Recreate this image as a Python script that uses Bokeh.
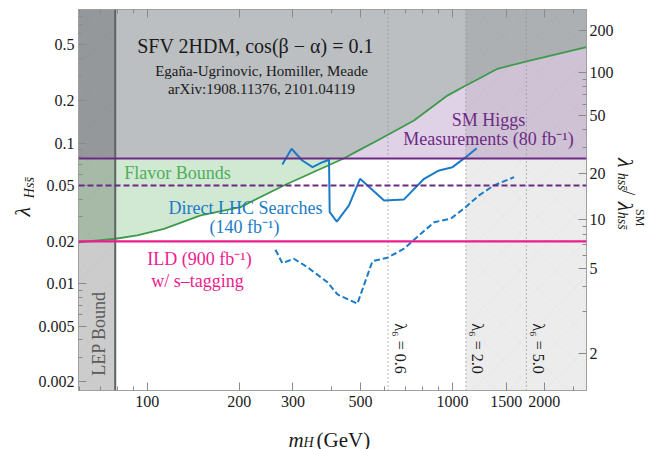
import numpy as np
from bokeh.plotting import figure
from bokeh.layouts import row, column
from bokeh.models import (Range1d, LogAxis, FixedTicker, CustomJSTickFormatter,
                          Label, Span, BoxAnnotation)
from bokeh.embed import file_html
from bokeh.resources import INLINE

# ---------------- data ----------------
# Flavor bound (green curve): m_H [GeV], lambda_Hss
green_m = [59.5, 60.4, 78.7, 92.7, 113.4, 149.6, 202, 280, 440, 493, 582, 748, 963, 1106, 1238, 1404, 1806, 2750]
green_lam = [0.0196, 0.0198, 0.0209, 0.0221, 0.0246, 0.0306, 0.0351, 0.050, 0.0778, 0.0888, 0.1075, 0.145, 0.218, 0.257, 0.292, 0.338, 0.388, 0.482]

# Direct LHC searches, 140 fb^-1 (solid)
lhc_m = [277, 297, 322, 348, 375, 394, 396, 418, 458, 498, 597, 694, 807, 904, 1000, 1106, 1201]
lhc_lam = [0.0706, 0.0912, 0.0753, 0.0675, 0.0732, 0.0762, 0.0323, 0.0277, 0.0361, 0.0558, 0.0391, 0.0398, 0.0558, 0.0640, 0.0675, 0.0795, 0.0921]

# Projection (dashed)
proj_m = [263, 277, 302, 335, 389, 420, 488, 547, 612, 694, 740, 871, 987, 1106, 1222, 1369, 1592]
proj_lam = [0.01746, 0.0140, 0.01506, 0.0131, 0.01026, 0.0084, 0.00721, 0.01448, 0.0153, 0.01775, 0.0201, 0.0274, 0.0290, 0.0351, 0.0425, 0.0501, 0.0573]

sm_higgs_bound = 0.0778     # SM Higgs measurements (80 fb^-1)
sm_higgs_proj = 0.05        # dashed purple
ild_bound = 0.02            # ILD (900 fb^-1) w/ s-tagging
lep_bound_m = 78.5          # LEP bound

lambda6_m = [615, 1106, 1748]
lambda6_labels = ["0.6", "2.0", "5.0"]

x_ticks = [100, 200, 300, 500, 1000, 1500, 2000]
x_minor = [60, 70, 80, 90, 400, 600, 700, 800, 900, 2500]
y_ticks = [0.002, 0.005, 0.01, 0.02, 0.05, 0.1, 0.2, 0.5]
y_minor = [0.003, 0.004, 0.006, 0.007, 0.008, 0.009, 0.03, 0.04, 0.06, 0.07, 0.08, 0.09,
           0.3, 0.4, 0.6, 0.7, 0.8]
ratio_ticks = [2, 5, 10, 20, 50, 100, 200]
ratio_minor = [3, 4, 6, 7, 8, 9, 30, 40, 60, 70, 80, 90]
cos_ba = 0.1
sin_ba = float(np.sqrt(1 - cos_ba ** 2))
lam_sm = 3.19e-4

X_MIN, X_MAX = 59.5, 2750
Y_MIN, Y_MAX = 0.00174, 0.893

FONT = "Liberation Serif"
C_GREEN_FILL = "#d1e9d2"
C_PURPLE_FILL = "#e0d2e6"
C_GRAY_FILL = "#bbbfc1"
C_PURPLE = "#6c2a86"
C_PINK = "#ec1c8e"
C_BLUE = "#1b7bc6"
C_GREEN = "#3d9a4b"

# layout sizes (pixels)
LEFT_W, RIGHT_W, BOTTOM_H = 34, 48, 31
FRAME_W, FRAME_H = 508, 381
B_LEFT, B_RIGHT, B_TOP, B_BOTTOM = 44, 30, 9, 28
MAIN_H = B_TOP + FRAME_H + B_BOTTOM


def ratio_to_lam(r):
    return (r - sin_ba) / cos_ba * lam_sm


p = figure(frame_width=FRAME_W, frame_height=FRAME_H, x_axis_type="log", y_axis_type="log",
           x_range=Range1d(X_MIN, X_MAX), y_range=Range1d(Y_MIN, Y_MAX),
           output_backend="svg", toolbar_location=None, title=None,
           min_border_left=B_LEFT, min_border_right=B_RIGHT, min_border_top=B_TOP,
           min_border_bottom=B_BOTTOM, margin=(0, 0, 0, 0),
           background_fill_color="white", border_fill_color="white",
           outline_line_color="#a0a0a0")
p.grid.visible = False

# ---------------- region fills ----------------
gm = np.array(green_m)
gl = np.array(green_lam)
purple_line = np.full_like(gl, sm_higgs_bound)
upper = np.maximum(gl, purple_line)
top = np.full_like(gl, Y_MAX)
r1 = p.varea(x=gm, y1=gl, y2=upper, fill_color=C_GREEN_FILL)
r2 = p.varea(x=gm, y1=purple_line, y2=upper, fill_color=C_PURPLE_FILL)
r3 = p.varea(x=gm, y1=upper, y2=top, fill_color=C_GRAY_FILL)
for r in (r1, r2, r3):
    r.level = "image"

hatch = dict(hatch_pattern="diagonal_cross", hatch_scale=36, hatch_color="#000000",
             hatch_alpha=0.04, hatch_weight=0.6)
p.add_layout(BoxAnnotation(left=lambda6_m[1], fill_color="black", fill_alpha=0.075,
                           line_alpha=0, level="underlay", **hatch))
p.add_layout(BoxAnnotation(right=lep_bound_m, fill_color="black", fill_alpha=0.2,
                           line_alpha=0, level="underlay", **hatch))

# ---------------- lines ----------------
for xm in lambda6_m:
    p.add_layout(Span(location=xm, dimension="height", line_color="#8c8c8c",
                      line_dash="1 3", line_width=1.2))
p.add_layout(Span(location=lep_bound_m, dimension="height", line_color="#5f6264", line_width=2))

p.line(green_m, green_lam, line_color=C_GREEN, line_width=1.8)
p.add_layout(Span(location=sm_higgs_bound, dimension="width", line_color=C_PURPLE, line_width=2.2))
p.add_layout(Span(location=sm_higgs_proj, dimension="width", line_color=C_PURPLE, line_width=2,
                  line_dash="6 3"))
p.add_layout(Span(location=ild_bound, dimension="width", line_color=C_PINK, line_width=2.2))
p.line(lhc_m, lhc_lam, line_color=C_BLUE, line_width=2)
p.line(proj_m, proj_lam, line_color=C_BLUE, line_width=2, line_dash="6 3")


# ---------------- axes ----------------
def style(ax, standoff):
    ax.axis_line_color = "#a0a0a0"
    ax.major_tick_line_color = "#8a8a8a"
    ax.minor_tick_line_color = "#8a8a8a"
    ax.major_tick_in = 8
    ax.major_tick_out = 0
    ax.minor_tick_in = 4
    ax.minor_tick_out = 0
    ax.major_label_text_font = FONT
    ax.major_label_text_font_size = "16px"
    ax.major_label_text_color = "#1a1a1a"
    ax.major_label_standoff = standoff


xa = p.below[0]
xa.ticker = FixedTicker(ticks=x_ticks, minor_ticks=x_minor)
xa.formatter = CustomJSTickFormatter(code="return tick.toFixed(0)")
style(xa, 5)

ya = p.left[0]
ya.ticker = FixedTicker(ticks=y_ticks, minor_ticks=y_minor)
ya.formatter = CustomJSTickFormatter(code="return String(+tick.toPrecision(3))")
style(ya, 4)

top_ax = LogAxis(ticker=FixedTicker(ticks=x_ticks, minor_ticks=x_minor))
style(top_ax, 0)
top_ax.major_label_text_font_size = "0px"
p.add_layout(top_ax, "above")

right_ax = LogAxis(ticker=FixedTicker(ticks=[ratio_to_lam(r) for r in ratio_ticks],
                                      minor_ticks=[ratio_to_lam(r) for r in ratio_minor]),
                   formatter=CustomJSTickFormatter(
                       args=dict(s=sin_ba, c=cos_ba, l=lam_sm),
                       code="return Math.round(s + c * tick / l).toFixed(0)"))
style(right_ax, 3)
p.add_layout(right_ax, "right")


# ---------------- texts ----------------
def lab(fig, text, x, y, size, color="#1a1a1a", align="center", baseline="middle",
        angle=0.0, style_="normal", xu="screen", yu="screen", xoff=0):
    fig.add_layout(Label(x=x, y=y, x_units=xu, y_units=yu, text=text, text_font=FONT,
                         text_font_size=size, text_color=color, text_align=align,
                         text_baseline=baseline, angle=angle, text_font_style=style_,
                         x_offset=xoff))


# in-frame texts: screen coords relative to frame (sx = page_x - 78, sy = 390 - page_y)
lab(p, "SFV 2HDM, cos(\u03b2 \u2212 \u03b1) = 0.1", 177, 345, "20px")
lab(p, "Ega\u00f1a-Ugrinovic, Homiller, Meade", 183, 320, "15px")
lab(p, "arXiv:1908.11376, 2101.04119", 183, 302, "15px")

lab(p, "SM Higgs", 410, 271, "18px", color=C_PURPLE)
lab(p, "Measurements (80 fb\u207b\u00b9)", 410, 252, "18px", color=C_PURPLE)
lab(p, "Flavor Bounds", 99, 218, "18px", color="#4fae5c")
lab(p, "Direct LHC Searches", 167, 183, "18px", color=C_BLUE)
lab(p, "(140 fb\u207b\u00b9)", 166, 164, "18px", color=C_BLUE)
lab(p, "ILD (900 fb\u207b\u00b9)", 121, 132, "18px", color=C_PINK)
lab(p, "w/ s\u2013tagging", 119, 110, "18px", color=C_PINK)
lab(p, "LEP Bound", 20, 57, "18px", color="#5a5a5a", angle=np.pi / 2)

for xm, t in zip(lambda6_m, lambda6_labels):
    lab(p, "\u03bb\u2086 = " + t, xm, 42, "16px", angle=-np.pi / 2, xu="data", xoff=12)


# label strips around the main plot (pixel data ranges)
def strip(w, h):
    f = figure(width=w, height=h, x_range=Range1d(0, w), y_range=Range1d(0, h),
               output_backend="svg", toolbar_location=None, title=None, min_border=0,
               x_axis_location=None, y_axis_location=None, margin=(0, 0, 0, 0),
               outline_line_color=None, background_fill_color="white",
               border_fill_color="white")
    f.grid.visible = False
    return f


left = strip(LEFT_W, MAIN_H)
right = strip(RIGHT_W, MAIN_H)
TOTAL_W = LEFT_W + B_LEFT + FRAME_W + B_RIGHT + RIGHT_W
bottom = strip(TOTAL_W, BOTTOM_H)

# y axis label: lambda_{H s sbar} (page coords: x, MAIN_H - y)
lab(left, "\u03bb", 22, MAIN_H - 227, "22px", align="left", baseline="alphabetic",
    angle=np.pi / 2, style_="italic", xu="data", yu="data")
lab(left, "Hss\u0304", 29, MAIN_H - 207, "14px", align="left", baseline="alphabetic",
    angle=np.pi / 2, style_="italic", xu="data", yu="data")

# right axis label: lambda_{h s sbar} / lambda^SM_{h s sbar}
RX0 = LEFT_W + B_LEFT + FRAME_W + B_RIGHT
lab(right, "\u03bb", 625 - RX0, MAIN_H - 163, "22px", align="left", baseline="alphabetic",
    angle=-np.pi / 2, style_="italic", xu="data", yu="data")
lab(right, "hss\u0304", 622 - RX0, MAIN_H - 179, "14px", align="left", baseline="alphabetic",
    angle=-np.pi / 2, style_="italic", xu="data", yu="data")
lab(right, "/", 628 - RX0, MAIN_H - 198, "19px", align="left", baseline="alphabetic",
    angle=-np.pi / 2, xu="data", yu="data")
lab(right, "\u03bb", 625 - RX0, MAIN_H - 211, "22px", align="left", baseline="alphabetic",
    angle=-np.pi / 2, style_="italic", xu="data", yu="data")
lab(right, "SM", 639 - RX0, MAIN_H - 219, "12px", align="left", baseline="alphabetic",
    angle=-np.pi / 2, xu="data", yu="data")
lab(right, "hss\u0304", 622 - RX0, MAIN_H - 222, "14px", align="left", baseline="alphabetic",
    angle=-np.pi / 2, style_="italic", xu="data", yu="data")

# x axis label: m_H (GeV); strip spans page y MAIN_H .. MAIN_H + BOTTOM_H
BY1 = MAIN_H + BOTTOM_H
lab(bottom, "m", 288, BY1 - 439, "21px", align="left", baseline="alphabetic",
    style_="italic", xu="data", yu="data")
lab(bottom, "H", 303, BY1 - 442, "14px", align="left", baseline="alphabetic",
    style_="italic", xu="data", yu="data")
lab(bottom, "(GeV)", 316, BY1 - 439, "21px", align="left", baseline="alphabetic",
    xu="data", yu="data")

layout = column(row(left, p, right, spacing=0), bottom, spacing=0)
open("out.html", "w").write(file_html(layout, INLINE))
